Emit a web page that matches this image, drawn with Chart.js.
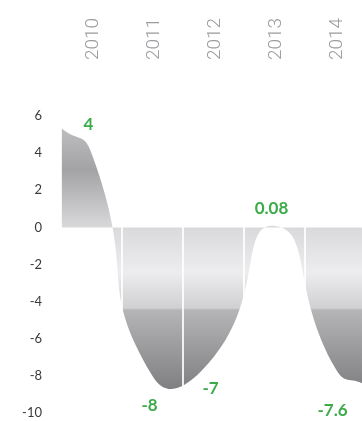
<!DOCTYPE html>
<html>
<head>
<meta charset="utf-8">
<script src="https://cdn.jsdelivr.net/npm/chart.js@4.4.1/dist/chart.umd.min.js"></script>
<style>
  html, body { margin: 0; padding: 0; background: #ffffff; overflow: hidden; }
  #wrap { position: relative; width: 366px; height: 421px; }
</style>
</head>
<body>
<div id="wrap"><canvas id="chart"></canvas></div>
<script>
// Yearly change, one value per year
const years = ['2010', '2011', '2012', '2013', '2014'];
const growth = [4, -8, -7, 0.08, -7.6];
const growthLabels = ['4', '-8', '-7', '0.08', '-7.6'];
// level of the filled curve where it meets the left and right plot edges
const edgeValues = [5.35, -8.5];
const yTicks = [6, 4, 2, 0, -2, -4, -6, -8, -10];

const curvePoints = [{ x: -0.5, y: edgeValues[0] }]
  .concat(growth.map((v, i) => ({ x: i, y: v })))
  .concat([{ x: years.length - 0.5, y: edgeValues[1] }]);

// glossy grey fill, built in value space of the y axis
function areaFill(context) {
  const chart = context.chart;
  const area = chart.chartArea;
  if (!area) return '#aaaaaa';
  const ys = chart.scales.y;
  const g = chart.ctx.createLinearGradient(0, area.top, 0, area.bottom);
  const h = area.bottom - area.top;
  const stop = (v, c) => {
    const p = (ys.getPixelForValue(v) - area.top) / h;
    g.addColorStop(Math.min(1, Math.max(0, p)), c);
  };
  stop(6, '#c6c6c8');
  stop(5.4, '#bebec0');
  stop(3.1, '#a3a3a5');
  stop(0, '#d9d9db');
  stop(-2.4, '#ededef');
  stop(-4.35, '#d0d0d2');
  stop(-4.45, '#b5b5b7');
  stop(-9, '#7c7c7e');
  stop(-10, '#78787a');
  return g;
}

// value captions above / below each year's point
const valueLabels = {
  id: 'valueLabels',
  afterDraw(chart, args, opts) {
    const { ctx, scales } = chart;
    ctx.save();
    ctx.font = opts.font;
    ctx.fillStyle = opts.color;
    ctx.textAlign = 'center';
    ctx.textBaseline = 'middle';
    growth.forEach((v, i) => {
      const px = scales.x.getPixelForValue(i) + opts.dx;
      const py = scales.y.getPixelForValue(v) + opts.dy[i];
      ctx.fillText(growthLabels[i], px, py);
    });
    ctx.restore();
  }
};

new Chart(document.getElementById('chart'), {
  type: 'line',
  data: {
    labels: years,
    datasets: [{
      data: curvePoints,
      xAxisID: 'xl',
      yAxisID: 'y',
      fill: 'origin',
      backgroundColor: areaFill,
      borderWidth: 0,
      borderColor: 'rgba(0,0,0,0)',
      pointRadius: 0,
      tension: 0.6
    }]
  },
  options: {
    responsive: true,
    maintainAspectRatio: false,
    animation: false,
    events: [],
    layout: { padding: { top: 0, right: 0, bottom: 8, left: 0 } },
    plugins: {
      legend: { display: false },
      tooltip: { enabled: false },
      valueLabels: {
        font: 'bold 17px Lato, "Open Sans", sans-serif',
        color: '#3cab4a',
        dx: -3,
        dy: [-29, 30, 31, -17, 42]
      }
    },
    scales: {
      x: {
        type: 'category',
        position: 'top',
        offset: true,
        grid: {
          offset: true,
          z: 1,
          drawTicks: true,
          tickLength: 56,
          color: 'rgba(255,255,255,0.85)',
          lineWidth: 2
        },
        border: { display: false },
        ticks: {
          minRotation: 90,
          maxRotation: 90,
          padding: 0,
          labelOffset: 25,
          color: '#9c9ca0',
          font: { family: 'Roboto, "Open Sans", sans-serif', size: 19, weight: '300' }
        },
        afterFit(scale) { scale.height = 116; }
      },
      xl: {
        type: 'linear',
        display: false,
        min: -0.5,
        max: years.length - 0.5
      },
      y: {
        type: 'linear',
        position: 'left',
        min: -10,
        max: 6,
        grid: { display: false, drawTicks: true, tickLength: 19 },
        border: { display: false },
        afterBuildTicks(scale) { scale.ticks = yTicks.map(v => ({ value: v })); },
        ticks: {
          padding: 0,
          color: '#3a3a3a',
          font: { family: 'Lato, "Open Sans", sans-serif', size: 13 }
        },
        afterFit(scale) { scale.width = 61; }
      }
    }
  },
  plugins: [valueLabels]
});
</script>
</body>
</html>
